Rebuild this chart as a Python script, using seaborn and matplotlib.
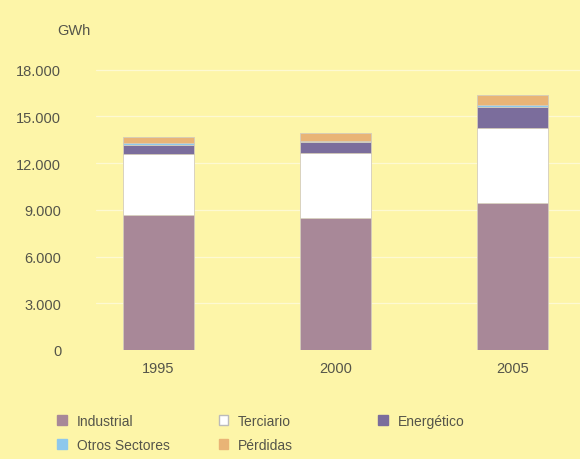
import matplotlib
matplotlib.use("Agg")
import matplotlib.pyplot as plt
from matplotlib.patches import Patch
import seaborn as sns
import pandas as pd
import numpy as np

years = ["1995", "2000", "2005"]
industrial = [8700, 8450, 9450]
terciario = [3900, 4200, 4800]
energetico = [580, 700, 1350]
otros_sectores = [100, 100, 120]
perdidas = [420, 480, 650]

series_names = ["Industrial", "Terciario", "Energético", "Otros Sectores", "Pérdidas"]
series_values = [industrial, terciario, energetico, otros_sectores, perdidas]
series_colors = ["#a88898", "#ffffff", "#7b6d9c", "#8ec8ec", "#e9b476"]

y_ticks = [0, 3000, 6000, 9000, 12000, 15000, 18000]
y_tick_labels = ["0", "3.000", "6.000", "9.000", "12.000", "15.000", "18.000"]

bg = "#fdf5a8"
txt = "#55554a"
sns.set_theme(style="white")
plt.rcParams["font.family"] = ["Liberation Sans", "DejaVu Sans"]

fig = plt.figure(figsize=(5.8, 4.6), dpi=100, facecolor=bg)
ax = fig.add_axes([0.1655, 0.237, 0.8345, 0.643])
ax.set_facecolor(bg)

for y in y_ticks[1:]:
    ax.axhline(y, color="#fdf9d2", lw=0.9, zorder=0)

bottom = np.zeros(len(years))
for name, vals, col in zip(series_names, series_values, series_colors):
    df = pd.DataFrame({"year": years, "value": vals})
    sns.barplot(data=df, x="year", y="value", color=col, width=0.4,
                bottom=bottom, saturation=1, edgecolor="#d4ccbc",
                linewidth=0.6, ax=ax, zorder=2)
    bottom = bottom + np.array(vals)

ax.set_xlim(-0.35, 2.38)
ax.set_ylim(0, 19000)
ax.set_yticks(y_ticks)
ax.set_yticklabels(y_tick_labels)
ax.set_xlabel("")
ax.set_ylabel("")
ax.tick_params(axis="both", length=0, labelsize=10.5, labelcolor=txt)
ax.tick_params(axis="x", pad=8)
ax.tick_params(axis="y", pad=25)
for s in ax.spines.values():
    s.set_visible(False)

fig.text(0.098, 0.933, "GWh", fontsize=10.5, color=txt, ha="left", va="center")

# legend entries laid out in rows: three on the first, two on the second
legend_slots = [(0.099, 0.083), (0.377, 0.083), (0.652, 0.083),
                (0.099, 0.031), (0.377, 0.031)]
for name, col, (lx, ly) in zip(series_names, series_colors, legend_slots):
    h = Patch(facecolor=col, edgecolor="#bbbbbb" if col == "#ffffff" else col, label=name)
    fig.legend(handles=[h], loc="center left", bbox_to_anchor=(lx, ly),
               frameon=False, fontsize=10, handlelength=0.7, handleheight=0.7,
               handletextpad=0.7, borderpad=0, borderaxespad=0,
               labelcolor=txt)

fig.savefig("out.png", dpi=100, facecolor=bg)
